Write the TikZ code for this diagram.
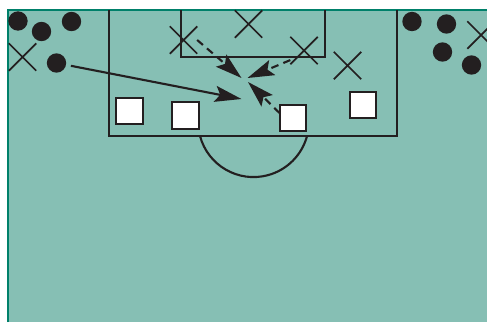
\documentclass[tikz,border=0pt]{standalone}
\usetikzlibrary{arrows.meta,shapes.misc}
\definecolor{pitch}{HTML}{86BFB4}
\definecolor{pitchedge}{HTML}{00806A}
\definecolor{ink}{HTML}{231F20}

\begin{document}
\begin{tikzpicture}[x=0.03cm, y=-0.03cm, line width=1.8pt, draw=ink,
  every node/.style={inner sep=0pt, outer sep=0pt},
  attacker/.style={circle, fill=ink, minimum size=0.58cm},
  defender/.style={cross out, draw=ink, line width=1.5pt, minimum size=0.82cm},
  marker/.style={draw=ink, fill=white, line width=1.8pt, minimum size=0.8cm},
  run/.style={-{Stealth[length=0.8cm, width=0.48cm, inset=0.15cm]}, ink}]
\useasboundingbox (0,0) rectangle (487,322);
\clip (0,0) rectangle (487,322);
\fill[pitch] (8,10) rectangle (487,322);
\draw[pitchedge, line width=2pt] (8,322) -- (8,10) -- (487,10);
\draw (109,10) -- (109,136) -- (397,136) -- (397,10);
\draw (181,10) -- (181,57) -- (325,57) -- (325,10);
\draw (200,136) arc[start angle=195, end angle=345, radius=1.662cm];
\node[attacker] (a1) at (18,21) {};
\node[attacker] (a2) at (41.5,31.5) {};
\node[attacker] (a3) at (71.5,21.5) {};
\node[attacker] (a4) at (56.5,63) {};
\node[attacker] (a5) at (412,21.5) {};
\node[attacker] (a6) at (446.5,24) {};
\node[attacker] (a7) at (442.5,52) {};
\node[attacker] (a8) at (471.5,65) {};
\node[defender] (d1) at (22.5,57) {};
\node[defender] (d2) at (183.5,40) {};
\node[defender] (d3) at (248.5,24) {};
\node[defender] (d4) at (304,50.5) {};
\node[defender] (d5) at (347.5,65.5) {};
\node[defender] (d6) at (481,35) {};
\node[marker] (m1) at (129.5,111) {};
\node[marker] (m2) at (185.3,115.3) {};
\node[marker] (m3) at (293,118) {};
\node[marker] (m4) at (363,105) {};
\coordinate (t1) at (241.5,99);
\coordinate (t2) at (241.5,78);
\coordinate (t3) at (247.5,78);
\coordinate (t4) at (248,82);
\draw[run, shorten <=0.15cm] (a4) -- (t1);
\draw[run, dash pattern=on 6.5pt off 4.5pt] (d2.east) -- (t2);
\draw[run, dash pattern=on 6.5pt off 4.5pt] (d4.215) -- (t3);
\draw[run, dash pattern=on 6.5pt off 4.5pt] (m3.160) -- (t4);
\end{tikzpicture}
\end{document}
